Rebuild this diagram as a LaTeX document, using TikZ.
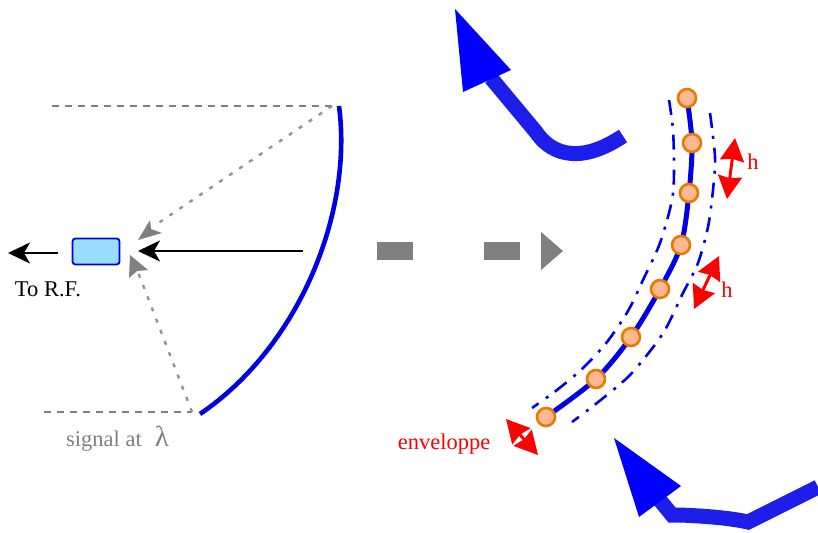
\documentclass[tikz,border=0pt]{standalone}
\usepackage{fontspec}
\setmainfont{Liberation Serif}
\usetikzlibrary{arrows.meta}
\definecolor{lens_blue}{RGB}{0,0,230}
\definecolor{feed_blue}{RGB}{153,221,255}
\definecolor{bead_fill}{RGB}{255,184,144}
\definecolor{bead_edge}{RGB}{232,122,0}
\definecolor{move_blue}{RGB}{30,30,235}
\tikzset{
  bead/.style={circle, draw=bead_edge, fill=bead_fill, line width=2.6pt, minimum size=18pt, inner sep=0pt},
  raydash/.style={draw=gray!85, line width=2.4pt, dash pattern=on 4pt off 8pt},
  guidedash/.style={draw=gray, line width=1.3pt, dash pattern=on 7pt off 6pt},
  envdash/.style={draw=lens_blue, line width=2.6pt, dash pattern=on 15pt off 8pt on 3pt off 9pt},
  redarrow/.style={draw=red, line width=3pt, {Stealth[length=23pt,width=24pt,inset=2pt]}-{Stealth[length=23pt,width=24pt,inset=2pt]}},
  movearrow/.style={draw=move_blue, line width=15pt},
  lbl/.style={font=\fontsize{22.5}{25}\selectfont},
}
\begin{document}
\begin{tikzpicture}[x=1pt, y=-1pt]
  \useasboundingbox (0,0) rectangle (818,532);
  % Guide lines and rays
  \coordinate (mtop) at (339,106);
  \coordinate (mbot) at (200,414);
  \coordinate (rtop) at (332,106);
  \coordinate (rbot) at (192,412);
  \coordinate (raya) at (138,240);
  \coordinate (rayb) at (130,255);
  \draw[guidedash] (52,106) -- (rtop);
  \draw[guidedash] (44,412) -- (rbot);
  \draw[raydash] (rtop) -- (154,226);
  \draw[raydash] (rbot) -- (138,272);
  \fill[gray] (raya) -- (150,220) -- (151,229) -- (162,233) -- cycle;
  \fill[gray] (rayb) -- (129,278) -- (137,271) -- (148,270) -- cycle;
  % Mirror
  \draw[lens_blue, line width=4.6pt] (mtop) .. controls (353,212) and (300,346) .. (mbot);
  % Feed
  \node[draw=lens_blue, fill=feed_blue, line width=1.8pt, rounded corners=3pt,
    minimum width=47pt, minimum height=26pt, inner sep=0pt] (feed) at (96,251.5) {};
  \coordinate (beam) at (303,251);
  \coordinate (beamtip) at (138,251);
  \coordinate (outa) at (58,253);
  \coordinate (outb) at (8,253);
  \draw[-{Stealth[length=22pt,width=21pt,inset=6pt]}, line width=2.3pt] (beam) -- (beamtip);
  \draw[-{Stealth[length=22pt,width=21pt,inset=6pt]}, line width=2.3pt] (outa) -- (outb);
  \node[lbl, anchor=center] (rf) at (48,289) {To R.F.};
  \node[lbl, text=gray, anchor=center] (sig) at (104,441) {signal at};
  \node[text=gray, font=\fontsize{29}{31}\selectfont] (lam) at (162,436) {λ};
  % Big grey arrow
  \fill[gray] (377,242) rectangle (413,260);
  \fill[gray] (484,242) rectangle (520,260);
  \fill[gray] (541,232) -- (563,251) -- (541,270) -- cycle;
  % Deformed surface
  \coordinate (c1) at (687,98);
  \coordinate (c2) at (692,143);
  \coordinate (c3) at (689,193);
  \coordinate (c4) at (681,245);
  \coordinate (c5) at (660,289);
  \coordinate (c6) at (631,337);
  \coordinate (c7) at (596,379);
  \coordinate (c8) at (546,417);
  \draw[lens_blue, line width=5pt] plot[smooth] coordinates {(c1) (c2) (c3) (c4) (c5) (c6) (c7) (c8)};
  \draw[envdash] plot[smooth] coordinates {(669,100) (673,130) (674,170) (672,200) (660,243) (643,280) (628,311) (607,342) (583,368) (557,390) (532,408)};
  \draw[envdash] plot[smooth] coordinates {(710,113) (715,157) (713,190) (708,227) (698,263) (683,293) (665,330) (647,355) (627,378) (597,403) (572,422)};
  \foreach \i in {1,...,8}
    \node[bead] (b\i) at (c\i) {};
  % Tolerances
  \coordinate (ha) at (735,138);
  \coordinate (hb) at (727,199);
  \coordinate (hc) at (719,256);
  \coordinate (hd) at (694,309);
  \coordinate (ea) at (506,419);
  \coordinate (eb) at (538,455);
  \draw[redarrow] (ha) -- (hb);
  \draw[redarrow] (hc) -- (hd);
  \draw[redarrow] (ea) -- (eb);
  \node[lbl, text=red] (h1) at (753,162) {h};
  \node[lbl, text=red] (h2) at (727,290) {h};
  \node[lbl, text=red] (env) at (444,444) {enveloppe};
  % Blue motion arrows
  \draw[movearrow] (491,78) -- (536,132) .. controls (548,150) and (575,168) .. (623,136);
  \fill[blue] (455,9) -- (511,70) -- (463,92) -- cycle;
  \draw[movearrow] (658,498) -- (672,515) -- (680,515) .. controls (705,516) and (730,518) .. (748,522) -- (818,487);
  \fill[blue] (614,438) -- (681,486) -- (639,517) -- cycle;
\end{tikzpicture}
\end{document}
